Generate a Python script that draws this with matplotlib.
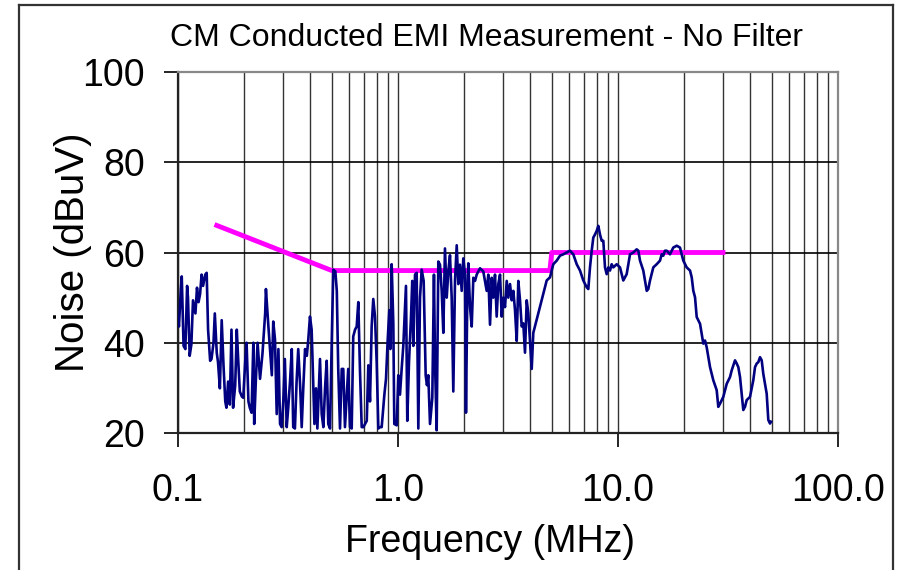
import matplotlib
matplotlib.use('Agg')
import matplotlib.pyplot as plt
from matplotlib.ticker import FixedLocator, FixedFormatter, NullLocator
from matplotlib.lines import Line2D

plt.rcParams['font.family'] = ['Liberation Sans', 'DejaVu Sans']

# measured CM noise, no filter (MHz, dBuV)
freq_mhz = [
    0.100, 0.101, 0.103, 0.104, 0.106, 0.108, 0.110, 0.111, 0.113, 0.115,
    0.117, 0.120, 0.122, 0.124, 0.126, 0.128, 0.130, 0.133, 0.135, 0.137,
    0.140, 0.142, 0.145, 0.147, 0.150, 0.152, 0.155, 0.158, 0.161, 0.164,
    0.166, 0.169, 0.172, 0.175, 0.178, 0.182, 0.185, 0.188, 0.191, 0.195,
    0.198, 0.202, 0.205, 0.209, 0.212, 0.216, 0.220, 0.222, 0.226, 0.230,
    0.236, 0.242,
    0.249, 0.251, 0.257, 0.267, 0.271, 0.276, 0.281, 0.286, 0.291, 0.296,
    0.301, 0.306, 0.312, 0.317, 0.323, 0.329, 0.334, 0.340, 0.346, 0.352,
    0.359, 0.365, 0.371, 0.378, 0.385, 0.391, 0.398, 0.405, 0.410, 0.417,
    0.424, 0.430, 0.442, 0.450, 0.458, 0.466, 0.474, 0.482, 0.491, 0.500,
    0.508, 0.519, 0.527, 0.535, 0.545, 0.555, 0.564, 0.574,
    0.594, 0.605, 0.616, 0.626, 0.638, 0.649, 0.660, 0.672, 0.684, 0.696,
    0.708, 0.721, 0.733, 0.746, 0.759, 0.772, 0.786, 0.800, 0.814, 0.828,
    0.843, 0.867, 0.882, 0.898, 0.913, 0.923, 0.936, 0.952, 0.962, 0.987,
    1.003, 1.021, 1.039, 1.057, 1.076, 1.087, 1.102, 1.122, 1.146, 1.161,
    1.174, 1.195, 1.216, 1.237, 1.259, 1.281, 1.308, 1.336, 1.354, 1.373,
    1.398, 1.432, 1.457,
    1.473, 1.499, 1.525, 1.552, 1.580, 1.607, 1.635, 1.665, 1.693, 1.723,
    1.754, 1.784, 1.816, 1.849, 1.880, 1.913, 1.948, 1.981, 2.016, 2.037,
    2.065, 2.087, 2.125, 2.163, 2.200, 2.239, 2.279, 2.317, 2.360, 2.442,
    2.486, 2.530, 2.573, 2.620, 2.666, 2.711, 2.760, 2.809, 2.857, 2.909,
    2.961, 3.010, 3.065, 3.120, 3.173, 3.230, 3.288, 3.344, 3.403, 3.464,
    3.523, 3.586, 3.650, 3.711, 3.778, 3.846, 3.911,
    4.053, 4.121, 4.270, 4.421, 4.576, 4.741, 4.908, 4.996, 5.081, 5.265,
    5.450, 5.642, 5.846, 6.050, 6.263, 6.491, 6.719, 6.955, 7.206, 7.328,
    7.459, 7.594, 7.722, 7.861, 8.002, 8.138, 8.283, 8.432, 8.575, 8.728,
    8.884, 9.035, 9.197, 9.363, 9.519, 9.865, 10.21, 10.57, 10.95, 11.34,
    11.74, 12.16, 12.37, 12.59, 13.03, 13.27, 13.51, 13.73, 13.98, 14.47,
    14.99, 15.52, 15.80, 16.07, 16.35, 16.65, 17.23, 17.84, 18.49, 19.13,
    19.81, 20.52, 21.25, 21.63, 22.00, 22.39, 22.79, 23.60, 24.42, 24.86,
    25.30, 26.20, 27.11, 28.09, 28.57, 29.09, 30.10, 31.20, 32.30, 32.88,
    34.03, 34.64, 35.23, 35.86, 36.50, 37.11, 37.78, 38.46, 39.81, 41.21,
    41.96, 42.72, 43.43, 44.21, 45.00, 45.76, 46.58, 47.41, 48.22, 49.08,
    49.60,
]
noise_dbuv = [
    45.8, 43.6, 51.9, 54.7, 39.3, 38.6, 52.6, 50.0, 37.1, 39.6,
    49.4, 46.5, 52.2, 49.0, 50.8, 55.1, 52.6, 55.1, 55.5, 42.9,
    36.0, 36.4, 40.0, 46.5, 37.8, 35.7, 29.9, 45.0, 35.0, 27.0,
    25.6, 31.4, 26.3, 42.9, 25.6, 30.6, 42.9, 35.7, 29.2, 28.1,
    27.8, 35.7, 40.0, 27.0, 25.6, 24.5, 40.0, 22.0, 32.0, 40.0,
    32.0, 37.5,
    46.5, 51.9, 44.3, 32.8, 44.7, 40.7, 24.2, 38.6, 22.0, 21.3,
    27.0, 36.4, 21.3, 25.6, 31.4, 38.6, 21.3, 21.0, 31.4, 38.6,
    30.6, 21.3, 29.9, 38.6, 37.1, 40.7, 45.8, 42.9, 34.2, 22.0,
    29.9, 21.0, 36.4, 24.2, 21.3, 29.9, 36.0, 22.0, 21.0, 40.7,
    56.2, 55.8, 51.5, 34.2, 21.0, 34.2, 34.2, 21.3,
    34.2, 21.3, 21.0, 41.4, 42.9, 43.6, 49.0, 33.5, 21.3, 21.3,
    22.0, 22.7, 35.0, 27.0, 43.6, 49.7, 45.8, 35.7, 21.0, 21.3,
    21.3, 28.5, 32.0, 40.7, 47.2, 38.6, 57.4, 44.3, 22.0, 21.7,
    32.8, 28.5, 34.2, 39.3, 47.9, 52.6, 22.7, 35.7, 45.8, 53.7,
    39.3, 55.1, 55.5, 21.0, 50.0, 56.2, 53.7, 32.8, 30.6, 32.8,
    22.0, 27.8, 55.1,
    35.7, 20.6, 58.0, 57.3, 51.5, 42.2, 60.9, 50.0, 55.8, 59.4,
    50.0, 29.2, 53.7, 61.6, 53.0, 57.3, 51.5, 58.7, 55.1, 24.5,
    50.0, 57.6, 47.9, 43.6, 54.4, 53.7, 55.1, 55.8, 56.5, 55.8,
    53.7, 51.5, 55.1, 44.0, 54.4, 50.0, 55.1, 45.8, 53.0, 55.1,
    45.8, 50.0, 47.9, 53.7, 50.0, 53.0, 49.4, 51.5, 47.2, 40.4,
    53.7, 49.4, 43.6, 44.3, 37.8, 49.4, 46.5,
    34.2, 42.2, 45.1, 48.0, 50.9, 53.8, 54.5, 56.0, 57.4, 58.2,
    59.3, 59.6, 60.0, 60.4, 59.6, 57.4, 56.0, 53.8, 52.3, 51.9,
    56.7, 60.4, 63.3, 64.0, 64.8, 65.9, 64.0, 62.6, 62.6, 56.7,
    55.2, 56.7, 56.0, 57.4, 56.7, 57.4, 56.7, 53.8, 55.2, 59.6,
    60.0, 60.7, 60.4, 58.2, 56.0, 53.8, 51.5, 51.9, 53.8, 56.7,
    57.4, 58.2, 59.6, 59.3, 60.4, 60.4, 59.6, 61.1, 61.5, 61.1,
    58.2, 56.7, 56.0, 54.5, 51.5, 50.1, 45.7, 44.2, 39.8, 40.5,
    39.0, 34.6, 31.7, 29.5, 25.8, 26.5, 28.0, 30.9, 32.4, 33.9,
    36.1, 35.4, 34.6, 32.4, 28.7, 25.1, 25.8, 27.3, 28.0, 31.7,
    34.6, 35.4, 35.7, 36.8, 36.1, 33.1, 30.9, 28.7, 22.9, 22.1,
    22.5,
]

# limit line
limit_freq = [0.15, 0.5, 4.9, 5.0, 30.0]
limit_dbuv = [66, 56, 56, 60, 60]

x_ticks = [0.1, 1.0, 10.0, 100.0]
x_tick_labels = ['0.1', '1.0', '10.0', '100.0']
y_ticks = [20, 40, 60, 80, 100]

fig = plt.figure(figsize=(9.01, 5.70), dpi=100)
ax = fig.add_axes([178 / 901, 137 / 570, 660 / 901, 361 / 570])

ax.plot(limit_freq, limit_dbuv, color='#FF00FF', linewidth=3.5, zorder=3)
ax.plot(freq_mhz, noise_dbuv, color='#000080', linewidth=1.9, zorder=4)

ax.set_xscale('log')
ax.set_xlim(0.1, 100)
ax.set_ylim(20, 100)

# ticks
ax.xaxis.set_major_locator(FixedLocator(x_ticks))
ax.xaxis.set_major_formatter(FixedFormatter(x_tick_labels))
ax.xaxis.set_minor_locator(FixedLocator([m * d for d in [0.1, 1, 10] for m in range(2, 10)]))
ax.yaxis.set_major_locator(FixedLocator(y_ticks))
ax.yaxis.set_minor_locator(NullLocator())
ax.tick_params(axis='both', which='major', direction='out', length=10, width=1.2,
               labelsize=27, color='black')
ax.tick_params(axis='x', which='major', pad=19)
ax.tick_params(axis='y', which='major', pad=14)
ax.tick_params(axis='x', which='minor', length=0)

# grid
ax.grid(axis='x', which='both', color='#333333', linewidth=1.0)
ax.grid(axis='y', which='major', color='black', linewidth=1.2)
ax.set_axisbelow(True)

for side in ['left', 'bottom']:
    ax.spines[side].set_color('#222222')
    ax.spines[side].set_linewidth(1.6)
for side in ['top', 'right']:
    ax.spines[side].set_color('#888888')
    ax.spines[side].set_linewidth(1.6)

ax.set_xlabel('Frequency (MHz)', fontsize=27)
ax.xaxis.set_label_coords((490 - 178) / 660, -(524 - 433) / 361)
ax.set_ylabel('Noise (dBuV)', fontsize=29)
ax.yaxis.set_label_coords(-(178 - 92) / 660, 0.5)

fig.text(487 / 901, 1 - 38 / 570, 'CM Conducted EMI Measurement - No Filter',
         fontsize=23, ha='center', va='center')

# chart area frame
for xs, ys in [([19, 19], [0, 565]), ([19, 893], [565, 565]), ([893, 893], [565, 0])]:
    fig.add_artist(Line2D([x / 901 for x in xs], [y / 570 for y in ys],
                          color='#333333', linewidth=1.6))

plt.savefig('out.png', dpi=100)
